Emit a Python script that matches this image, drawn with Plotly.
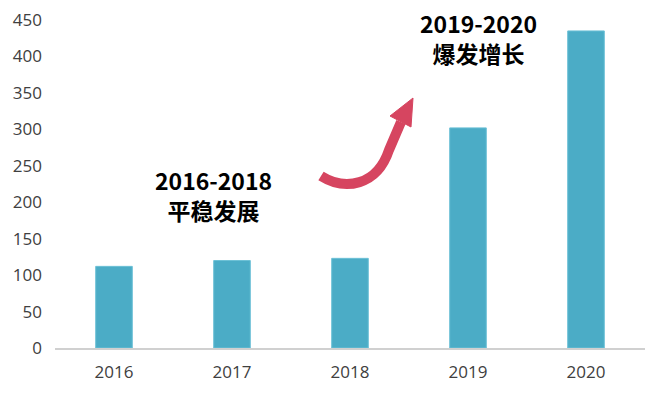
import plotly.graph_objects as go

years = ["2016", "2017", "2018", "2019", "2020"]
values = [112, 120, 123, 302, 435]
y_ticks = [0, 50, 100, 150, 200, 250, 300, 350, 400, 450]

bar_color = "#4BACC6"
arrow_color = "#D64560"
tick_font = dict(family="Open Sans, Noto Sans, sans-serif", size=17, color="#404040")
ann_font = dict(family="Noto Sans CJK SC, Noto Sans, sans-serif", size=23, color="#000000")

fig = go.Figure()
fig.add_trace(go.Bar(
    x=years, y=values, width=0.31,
    marker=dict(color=bar_color, line=dict(color="#6CC0D6", width=1)),
))

# page body has an 8px default margin; compensate so the plot area lands at x 55-645, y 20-348
fig.update_layout(
    width=660, height=397,
    margin=dict(l=47, r=23, t=12, b=57),
    paper_bgcolor="white", plot_bgcolor="white",
    showlegend=False,
    xaxis=dict(type="category", showgrid=False, showline=True, linecolor="#D0D0D0",
               linewidth=1.5, ticks="", tickfont=tick_font, ticklabelstandoff=8,
               automargin=False, ticklabeloverflow="allow"),
    yaxis=dict(range=[0, 450], tickvals=y_ticks, showgrid=False, zeroline=False,
               showline=False, ticks="", tickfont=tick_font, ticklabelstandoff=12,
               automargin=False, ticklabeloverflow="allow"),
    annotations=[
        dict(text="<b>2016-2018</b><br><b>平稳发展</b>", xref="paper", yref="paper",
             x=(213 - 55) / 590, y=(348 - 195) / 328, showarrow=False,
             xanchor="center", yanchor="middle",
             font=ann_font, align="center"),
        dict(text="<b>2019-2020</b><br><b>爆发增长</b>", xref="paper", yref="paper",
             x=(478 - 55) / 590, y=(348 - 38) / 328, showarrow=False,
             xanchor="center", yanchor="middle",
             font=ann_font, align="center"),
    ],
)

def px(xp, yp):
    return (xp - 55) / 590, (348 - yp) / 328

pts = [px(321, 176), px(345, 191), px(377, 186), px(389, 150), px(401, 122)]
path = "M {0[0]},{0[1]} C {1[0]},{1[1]} {2[0]},{2[1]} {3[0]},{3[1]} L {4[0]},{4[1]}".format(*pts)
fig.add_shape(type="path", xref="paper", yref="paper", path=path,
              line=dict(color=arrow_color, width=10), fillcolor="rgba(0,0,0,0)")
tip = px(413, 98)
b1 = px(390, 116)
b2 = px(411, 127)
head = "M {0[0]},{0[1]} L {1[0]},{1[1]} L {2[0]},{2[1]} Z".format(tip, b1, b2)
fig.add_shape(type="path", xref="paper", yref="paper", path=head,
              line=dict(color=arrow_color, width=1), fillcolor=arrow_color)

fig.write_html("out.html")
